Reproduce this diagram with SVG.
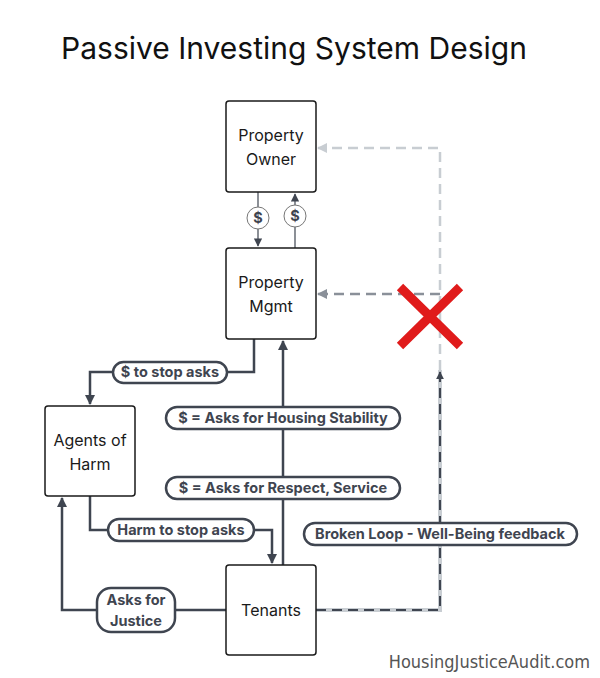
<svg xmlns="http://www.w3.org/2000/svg" width="600" height="678" viewBox="0 0 600 678">
<style>
.box{fill:#fff;stroke:#1a1a1a;stroke-width:1.5}
.t{font-family:Inter,"Liberation Sans",sans-serif;font-size:16px;fill:#1a1a1a;text-anchor:middle}
.c{fill:none;stroke:#3f4550;stroke-width:2.5}
.thin{fill:none;stroke:#3f4550;stroke-width:1.2}
.pill{fill:#fff;stroke:#3f4550;stroke-width:2.5}
.pl{font-family:Inter,"Liberation Sans",sans-serif;font-size:14.5px;font-weight:bold;fill:#3f4550;text-anchor:middle}
</style>
<defs>
<marker id="a" viewBox="0 0 10 10" refX="9" refY="5" markerWidth="4" markerHeight="4" orient="auto-start-reverse"><path d="M0,0L10,5L0,10z" fill="#3f4550"/></marker>
<marker id="at" viewBox="0 0 10 10" refX="9" refY="5" markerWidth="7" markerHeight="7" orient="auto"><path d="M0,0L10,5L0,10z" fill="#3f4550"/></marker>
<marker id="ag" viewBox="0 0 10 10" refX="9" refY="5" markerWidth="4" markerHeight="4" orient="auto"><path d="M0,0L10,5L0,10z" fill="#c8cdd2"/></marker>
<marker id="am" viewBox="0 0 10 10" refX="9" refY="5" markerWidth="4" markerHeight="4" orient="auto"><path d="M0,0L10,5L0,10z" fill="#8a9099"/></marker>
</defs>
<rect width="600" height="678" fill="#fff"/>
<text x="294" y="59" font-family="Inter,'Liberation Sans',sans-serif" font-size="30" text-anchor="middle" fill="#111">Passive Investing System Design</text>
<g id="connectors">
<path class="thin" d="M258,192V246" marker-end="url(#at)"/>
<path class="thin" d="M295,248V194" marker-end="url(#at)"/>
<circle cx="258" cy="218" r="11" fill="#fff" stroke="#777" stroke-width="1"/>
<text x="258" y="223" class="pl" font-size="13">$</text>
<circle cx="295" cy="216" r="11" fill="#fff" stroke="#777" stroke-width="1"/>
<text x="295" y="221" class="pl" font-size="13">$</text>
<path class="c" d="M254,339V372H90V404" marker-end="url(#a)"/>
<path class="c" d="M283,565V341" marker-end="url(#a)"/>
<path class="c" d="M90,496V530H272V563" marker-end="url(#a)"/>
<path class="c" d="M226,610H62V498" marker-end="url(#a)"/>
<path d="M440,370V148H318" fill="none" stroke="#c8cdd2" stroke-width="2.5" stroke-dasharray="10,6" marker-end="url(#ag)"/>
<path d="M440,294H318" fill="none" stroke="#8a9099" stroke-width="2.5" stroke-dasharray="10,6" marker-end="url(#am)"/>
<path d="M316,610H440V370" fill="none" stroke="#c8cdd2" stroke-width="4"/>
<path d="M316,610H440V372" fill="none" stroke="#3f4550" stroke-width="2" stroke-dasharray="10,6" marker-end="url(#a)"/>
<rect class="pill" x="113" y="362" width="114" height="21" rx="10.5"/>
<text class="pl" x="170" y="377">$ to stop asks</text>
<rect class="pill" x="166" y="407" width="234" height="22" rx="11"/>
<text class="pl" x="283" y="423">$ = Asks for Housing Stability</text>
<rect class="pill" x="166" y="477" width="234" height="22" rx="11"/>
<text class="pl" x="283" y="493">$ = Asks for Respect, Service</text>
<rect class="pill" x="108" y="519" width="146" height="22" rx="11"/>
<text class="pl" x="181" y="535">Harm to stop asks</text>
<rect class="pill" x="97" y="588" width="78" height="44" rx="14"/>
<text class="pl" x="136" y="605">Asks for</text>
<text class="pl" x="136" y="626">Justice</text>
<rect class="pill" x="304" y="523" width="273" height="22" rx="11"/>
<text class="pl" x="440" y="539">Broken Loop - Well-Being feedback</text>
<path d="M400,287L460,346M460,287L400,346" stroke="#e01b1b" stroke-width="9"/>
</g>
<g id="owner"><rect class="box" x="226" y="101" width="90" height="91" rx="3"/><text class="t" x="271" y="141">Property</text><text class="t" x="271" y="165">Owner</text></g>
<g id="mgmt"><rect class="box" x="226" y="248" width="90" height="91" rx="3"/><text class="t" x="271" y="288">Property</text><text class="t" x="271" y="312">Mgmt</text></g>
<g id="agents"><rect class="box" x="45" y="406" width="90" height="90" rx="3"/><text class="t" x="90" y="446">Agents of</text><text class="t" x="90" y="470">Harm</text></g>
<g id="tenants"><rect class="box" x="226" y="565" width="90" height="90" rx="3"/><text class="t" x="271" y="616">Tenants</text></g>
<text x="590" y="668" text-anchor="end" font-family="'DejaVu Sans Condensed','Liberation Sans Narrow',sans-serif" font-size="18" fill="#555">HousingJusticeAudit.com</text>
</svg>
